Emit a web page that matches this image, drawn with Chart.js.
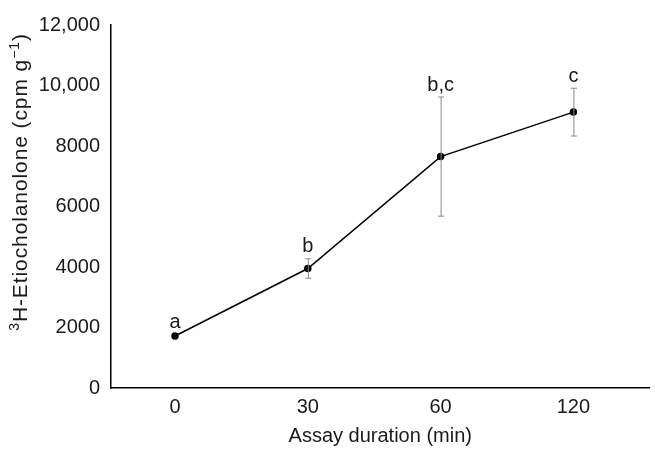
<!DOCTYPE html>
<html>
<head>
<meta charset="utf-8">
<script src="https://cdn.jsdelivr.net/npm/chart.js@4/dist/chart.umd.min.js"></script>
<style>
  html, body { margin: 0; padding: 0; background: #fff; }
  #wrap { width: 655px; height: 449px; }
</style>
</head>
<body>
<div id="wrap"><canvas id="chart"></canvas></div>
<script>
(function() {
  "use strict";

  // assay duration categories (min)
  const durations = ["0", "30", "60", "120"];
  // mean 3H-etiocholanolone (cpm g-1)
  const means = [1720, 3950, 7650, 9120];
  // error bar half-widths
  const errors = [60, 320, 1970, 790];
  // significance letters
  const letters = ["a", "b", "b,c", "c"];
  const yTicks = [0, 2000, 4000, 6000, 8000, 10000, 12000];

  const FONT = "'Liberation Sans', Arial, sans-serif";
  const TEXT = "#1a1a1a";

  function fmtTick(v) {
    return v >= 10000 ? v.toLocaleString("en-US") : String(v);
  }

  // draws the gray error bars and letters above each point
  const errorBars = {
    id: "errorBars",
    afterDatasetsDraw(chart) {
      let ctx = chart.ctx;
      let xs = chart.scales.x;
      let ys = chart.scales.y;
      ctx.save();
      means.forEach((m, i) => {
        let x = xs.getPixelForValue(i);
        let top = ys.getPixelForValue(m + errors[i]);
        let bot = ys.getPixelForValue(m - errors[i]);
        if (errors[i] > 100) {
          ctx.strokeStyle = "#8a8a8a";
          ctx.lineWidth = 1;
          ctx.beginPath();
          ctx.moveTo(x + 0.5, top);
          ctx.lineTo(x + 0.5, bot);
          ctx.moveTo(x - 2.5, top);
          ctx.lineTo(x + 3.5, top);
          ctx.moveTo(x - 2.5, bot);
          ctx.lineTo(x + 3.5, bot);
          ctx.stroke();
        }
        ctx.fillStyle = TEXT;
        ctx.font = "20px " + FONT;
        ctx.textAlign = "center";
        ctx.textBaseline = "bottom";
        ctx.fillText(letters[i], x, top - 2);
      });
      ctx.restore();
    }
  };

  // y title with real superscripts: 3H-Etiocholanolone (cpm g-1)
  const yTitle = {
    id: "yTitle",
    afterDraw(chart) {
      let ctx = chart.ctx;
      let parts = [
        { t: "3", sup: true },
        { t: "H-Etiocholanolone (cpm g", sup: false },
        { t: "\u22121", sup: true },
        { t: ")", sup: false }
      ];
      ctx.save();
      ctx.letterSpacing = "0.9px";
      let widths = parts.map(p => {
        ctx.font = (p.sup ? "14px " : "21px ") + FONT;
        return ctx.measureText(p.t).width;
      });
      let total = widths.reduce((a, b) => a + b, 0);
      ctx.translate(27, 182);
      ctx.rotate(-Math.PI / 2);
      ctx.fillStyle = TEXT;
      ctx.textAlign = "left";
      ctx.textBaseline = "alphabetic";
      let x = -total / 2;
      parts.forEach((p, i) => {
        ctx.font = (p.sup ? "14px " : "21px ") + FONT;
        ctx.fillText(p.t, x, p.sup ? -8 : 0);
        x += widths[i];
      });
      ctx.restore();
    }
  };

  let config = {
    type: "line",
    data: {
      datasets: [{
        data: means.map((m, i) => ({ x: i, y: m })),
        borderColor: "#000",
        borderWidth: 1.5,
        pointRadius: 3,
        pointBackgroundColor: "#000",
        pointBorderColor: "#000",
        tension: 0,
        clip: false
      }]
    },
    options: {
      responsive: true,
      maintainAspectRatio: false,
      animation: false,
      layout: { padding: { top: 25, right: 0, left: 0, bottom: 0 } },
      plugins: {
        legend: { display: false },
        tooltip: { enabled: false }
      },
      scales: {
        x: {
          type: "linear",
          min: -0.482,
          max: 3.573,
          afterBuildTicks: (scale) => {
            scale.ticks = durations.map((_, i) => ({ value: i }));
          },
          afterFit: (scale) => { scale.height = 61; },
          grid: { display: false, drawTicks: false },
          border: { display: true, color: "#000", width: 1.5 },
          ticks: {
            padding: 7,
            color: TEXT,
            font: { size: 20, family: FONT },
            callback: (v) => durations[v]
          },
          title: {
            display: true,
            text: "Assay duration (min)",
            color: TEXT,
            font: { size: 20, family: FONT },
            padding: { top: 0, bottom: 1 }
          }
        },
        y: {
          min: 0,
          max: 12000,
          afterBuildTicks: (scale) => {
            scale.ticks = yTicks.map(v => ({ value: v }));
          },
          afterFit: (scale) => { scale.width = 111; },
          grid: { display: false, drawTicks: false },
          border: { display: true, color: "#000", width: 1.5 },
          ticks: {
            padding: 11,
            color: TEXT,
            font: { size: 20, family: FONT },
            callback: (v) => fmtTick(v)
          },
          title: { display: false }
        }
      }
    },
    plugins: [errorBars, yTitle]
  };

  new Chart(document.getElementById("chart"), config);
})();
</script>
</body>
</html>
